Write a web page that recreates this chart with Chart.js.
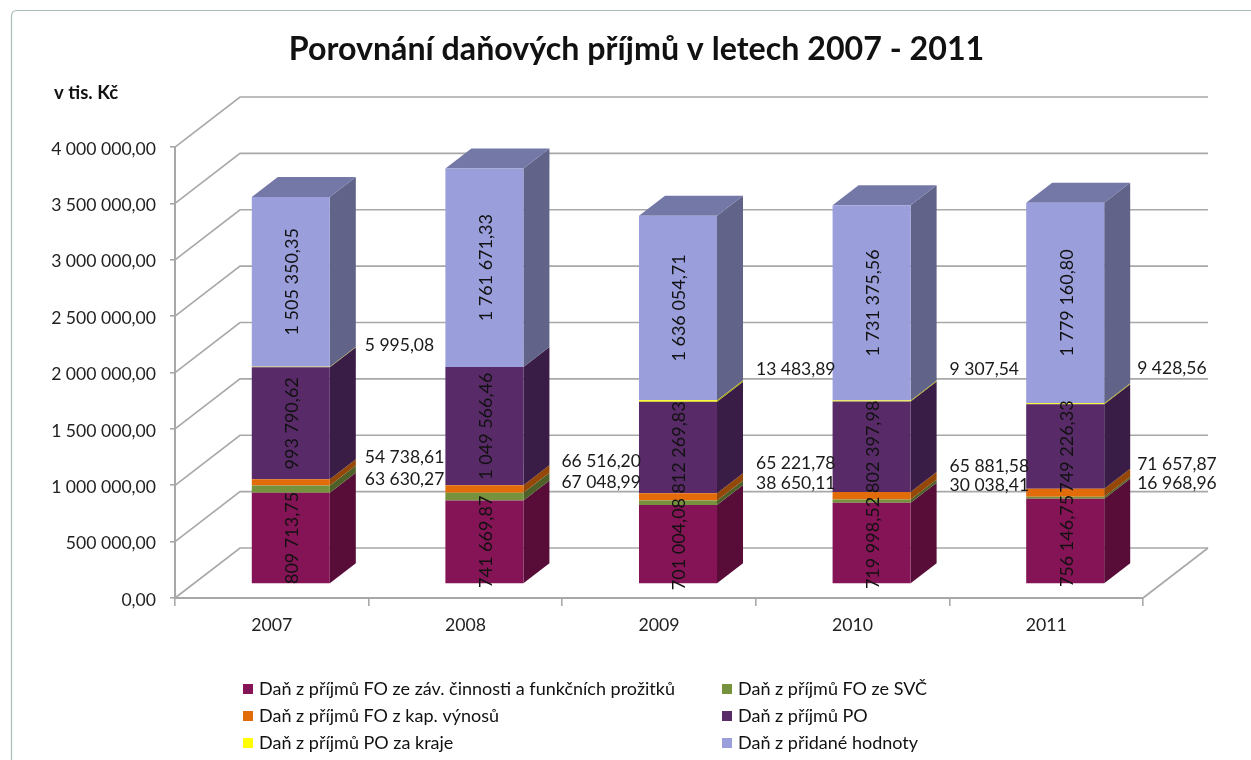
<!DOCTYPE html>
<html lang="cs">
<head>
<meta charset="utf-8">
<title>Porovnání daňových příjmů</title>
<style>html,body{margin:0;padding:0;background:#fff}canvas{display:block}</style>
<script src="https://cdn.jsdelivr.net/npm/chart.js@4"></script>
</head>
<body>
<canvas id="c" width="1251" height="760"></canvas>
<script>
const years = ['2007', '2008', '2009', '2010', '2011'];
const foZavisla = [809713.75, 741669.87, 701004.08, 719998.52, 756146.75];
const foSvc = [63630.27, 67048.99, 38650.11, 30038.41, 16968.96];
const foKap = [54738.61, 66516.20, 65221.78, 65881.58, 71657.87];
const po = [993790.62, 1049566.46, 812269.83, 802397.98, 749226.33];
const poKraje = [5995.08, null, 13483.89, 9307.54, 9428.56];
const dph = [1505350.35, 1761671.33, 1636054.71, 1731375.56, 1779160.80];
const titleText = 'Porovnání daňových příjmů v letech 2007 - 2011';
const unitText = 'v tis. Kč';
const seriesNames = [
  'Daň z příjmů FO ze záv. činnosti a funkčních prožitků',
  'Daň z příjmů FO ze SVČ',
  'Daň z příjmů FO z kap. výnosů',
  'Daň z příjmů PO',
  'Daň z příjmů PO za kraje',
  'Daň z přidané hodnoty'
];

const FONT = 'Lato, Carlito, "Open Sans", sans-serif';
const colors = ['#841455', '#77923C', '#E36C0A', '#582B68', '#FFFF00', '#9A9FDC'];
const sides = ['#580D38', '#4E6028', '#954708', '#3A1D46', '#A9A900', '#616488'];
const topColor = '#7478A7';
const GRID = '#A8A8A8';
const fmt = v => {
  const [a, b] = Number(v).toFixed(2).split('.');
  return a.replace(/\B(?=(\d{3})+(?!\d))/g, ' ') + ',' + b;
};

// pseudo-3D geometry (style only)
const WALL = {dx: 65, dy: -50};
const BAR_SHIFT = {dx: 19, dy: -14};
const BAR_DEPTH = {dx: 26, dy: -20};
// placement of the small outside labels relative to their segment
const SIDE_DX = [35, 38, 39, 39, 33];
const SIDE_DY = {
  1: [-10, -14, -19, -16, -14],
  2: [-25, -28, -34, -29, -28],
  4: [-22, 0, -32, -32, -35]
};

const poly = (ctx, pts, fill) => {
  ctx.beginPath();
  pts.forEach((p, i) => i ? ctx.lineTo(p[0], p[1]) : ctx.moveTo(p[0], p[1]));
  ctx.closePath();
  ctx.fillStyle = fill;
  ctx.fill();
};

const pseudo3d = {
  id: 'pseudo3d',
  afterLayout(chart) {
    if (chart.titleBlock) { chart.titleBlock.left += 130; }
  },
  beforeDraw(chart) {
    const {ctx, chartArea: a} = chart;
    ctx.save();
    ctx.fillStyle = '#fff';
    ctx.fillRect(0, 0, chart.width, chart.height);
    ctx.strokeStyle = '#A9BDBD';
    ctx.lineWidth = 1.2;
    ctx.beginPath();
    ctx.moveTo(11.5, 760);
    ctx.lineTo(11.5, 16);
    ctx.quadraticCurveTo(11.5, 10.5, 17, 10.5);
    ctx.lineTo(1251, 10.5);
    ctx.stroke();
    // walls and floor
    const y = chart.scales.y;
    ctx.strokeStyle = GRID;
    ctx.lineWidth = 1.6;
    y.ticks.forEach(t => {
      const py = y.getPixelForValue(t.value);
      ctx.beginPath();
      ctx.moveTo(a.left, py);
      ctx.lineTo(a.left + WALL.dx, py + WALL.dy);
      ctx.lineTo(a.right + WALL.dx, py + WALL.dy);
      ctx.stroke();
    });
    ctx.beginPath();
    ctx.moveTo(a.right, a.bottom);
    ctx.lineTo(a.right + WALL.dx, a.bottom + WALL.dy);
    ctx.stroke();
    // unit caption
    ctx.fillStyle = '#111';
    ctx.font = 'bold 18.5px ' + FONT;
    ctx.textAlign = 'left';
    ctx.textBaseline = 'middle';
    ctx.fillText(unitText, 54, 93);
    ctx.restore();
  },
  beforeDatasetsDraw(chart) {
    const {ctx} = chart;
    ctx.save();
    ctx.translate(BAR_SHIFT.dx, BAR_SHIFT.dy);
    const last = chart.data.datasets.length - 1;
    chart.data.datasets.forEach((ds, di) => {
      chart.getDatasetMeta(di).data.forEach((el, i) => {
        if (ds.data[i] == null) return;
        const {x, y, base, width} = el.getProps(['x', 'y', 'base', 'width'], true);
        const r = x + width / 2, l = x - width / 2;
        const {dx, dy} = BAR_DEPTH;
        poly(ctx, [[r, y], [r + dx, y + dy], [r + dx, base + dy], [r, base]], sides[di]);
        if (di === last) {
          poly(ctx, [[l, y], [l + dx, y + dy], [r + dx, y + dy], [r, y]], topColor);
        }
      });
    });
  },
  afterDatasetsDraw(chart) {
    const {ctx} = chart;
    chart.data.datasets.forEach((ds, di) => {
      chart.getDatasetMeta(di).data.forEach((el, i) => {
        const v = ds.data[i];
        if (v == null) return;
        const {x, y, base, width} = el.getProps(['x', 'y', 'base', 'width'], true);
        const mid = (y + base) / 2;
        ctx.fillStyle = '#111';
        ctx.textBaseline = 'middle';
        if (SIDE_DY[di]) {
          ctx.font = '17.5px ' + FONT;
          ctx.textAlign = 'left';
          // the shift of the bars is still active here
          ctx.fillStyle = '#1a1a1a';
          ctx.fillText(fmt(v), x + width / 2 + SIDE_DX[i], mid + SIDE_DY[di][i]);
        } else {
          ctx.font = '18px ' + FONT;
          ctx.save();
          ctx.translate(x + 1.5, mid);
          ctx.rotate(-Math.PI / 2);
          ctx.textAlign = 'center';
          ctx.fillText(fmt(v), 0, 0);
          ctx.restore();
        }
      });
    });
    ctx.restore();
  },
  afterDraw(chart) {
    const {ctx} = chart;
    ctx.save();
    ctx.font = '18px ' + FONT;
    ctx.textBaseline = 'middle';
    ctx.textAlign = 'left';
    const colX = [243, 722], rowY = [689, 716, 743];
    seriesNames.forEach((name, i) => {
      const cx = colX[i % 2], cy = rowY[Math.floor(i / 2)];
      ctx.fillStyle = colors[i];
      ctx.fillRect(cx, cy - 5, 10, 10);
      ctx.fillStyle = '#111';
      ctx.fillText(name, cx + 16, cy);
    });
    ctx.restore();
  }
};

const seriesValues = [foZavisla, foSvc, foKap, po, poKraje, dph];

new Chart(document.getElementById('c'), {
  type: 'bar',
  plugins: [pseudo3d],
  data: {
    labels: years,
    datasets: seriesValues.map((data, i) => ({
      label: seriesNames[i],
      data,
      backgroundColor: colors[i],
      borderWidth: 0,
      barPercentage: 0.403,
      categoryPercentage: 1,
      clip: false
    }))
  },
  options: {
    responsive: false,
    animation: false,
    layout: {padding: {left: 0, right: 108, top: 10, bottom: 0}},
    plugins: {
      legend: {display: false},
      tooltip: {enabled: false},
      title: {
        display: true,
        text: titleText,
        color: '#111',
        font: {family: FONT, size: 32.2, weight: 'bold', lineHeight: 1.2},
        padding: {top: 20, bottom: 78.4}
      }
    },
    scales: {
      x: {
        stacked: true,
        afterFit(s) { s.height = 162; },
        grid: {drawOnChartArea: false, color: GRID, lineWidth: 1.6, tickLength: 8, offset: true},
        border: {color: GRID, width: 2},
        ticks: {color: '#222', padding: 9, font: {family: FONT, size: 17.7}, maxRotation: 0}
      },
      y: {
        stacked: true,
        min: 0,
        max: 4000000,
        afterFit(s) { s.width = 175; },
        grid: {drawOnChartArea: false, color: GRID, lineWidth: 1.6, tickLength: 5},
        border: {color: GRID, width: 2},
        ticks: {
          stepSize: 500000,
          color: '#222',
          padding: 14,
          labelOffset: 2,
          font: {family: FONT, size: 17.6},
          callback: v => fmt(v)
        }
      }
    }
  }
});
</script>
</body>
</html>
